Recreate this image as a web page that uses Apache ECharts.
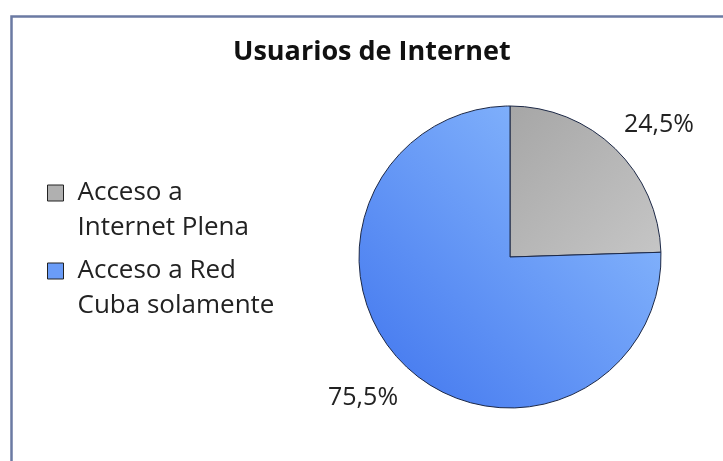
<!DOCTYPE html>
<html>
<head>
<meta charset="utf-8">
<script src="https://cdn.jsdelivr.net/npm/echarts@6/dist/echarts.min.js"></script>
<style>html,body{margin:0;padding:0;background:#fff}#c{width:723px;height:461px}</style>
</head>
<body>
<div id="c"></div>
<script>
var titleText = 'Usuarios de Internet';
var categories = ['Acceso a\nInternet Plena', 'Acceso a Red\nCuba solamente'];
var values = [24.5, 75.5];
var labelTexts = ['24,5%', '75,5%'];

var FONT = '"Open Sans", sans-serif';
var labelOffsets = [[7, 14], [-5, -6]];
var grad = function (c1, c2) {
  return new echarts.graphic.LinearGradient(1, 0, 0, 1, [
    { offset: 0, color: c1 }, { offset: 1, color: c2 }
  ]);
};
var sliceColors = [
  new echarts.graphic.LinearGradient(0, 0, 1, 1, [{ offset: 0, color: '#a6a6a6' }, { offset: 1, color: '#c6c6c6' }]),
  grad('#93c2ff', '#3f74ee')
];
var legendColors = ['#b0b0b0', '#6a9cf8'];

var data = categories.map(function (n, i) {
  return { name: n, value: values[i], itemStyle: { color: sliceColors[i] } };
});
var labelData = categories.map(function (n, i) {
  return { name: n, value: values[i], label: { formatter: labelTexts[i], offset: labelOffsets[i] } };
});

var chart = echarts.init(document.getElementById('c'), null, { renderer: 'canvas' });
chart.setOption({
  backgroundColor: '#ffffff',
  animation: false,
  color: legendColors,
  graphic: [{
    type: 'rect', left: 9, top: 14, silent: true,
    shape: { width: 740, height: 480 },
    style: { fill: 'none', stroke: '#6b7aa3', lineWidth: 2.5 }
  }],
  title: {
    text: titleText, left: 233, top: 39, padding: 0,
    textStyle: { fontFamily: FONT, fontWeight: 'bold', fontSize: 27, color: '#111' }
  },
  legend: {
    orient: 'vertical', left: 47, top: 175.5, padding: 0, itemGap: 8,
    itemWidth: 25, itemHeight: 51,
    icon: 'path://M0,0h16v16h-16zM25,51',
    data: categories.map(function (n, i) {
      return { name: n, itemStyle: { color: legendColors[i], borderColor: '#222', borderWidth: 1 } };
    }),
    textStyle: { fontFamily: FONT, fontSize: 26, color: '#222', lineHeight: 35 }
  },
  series: [{
    type: 'pie', center: [510, 257], radius: 151, startAngle: 90, clockwise: true,
    label: { show: false }, labelLine: { show: false },
    itemStyle: { borderColor: '#1c2846', borderWidth: 1 },
    emphasis: { disabled: true },
    data: data
  }, {
    type: 'pie', center: [510, 257], radius: [190, 212], startAngle: 90, clockwise: true,
    silent: true, legendHoverLink: false,
    itemStyle: { color: 'rgba(0,0,0,0)' },
    label: { show: true, position: 'inside', fontFamily: FONT, fontSize: 25, color: '#222' },
    labelLine: { show: false },
    emphasis: { disabled: true },
    data: labelData
  }]
});
</script>
</body>
</html>
